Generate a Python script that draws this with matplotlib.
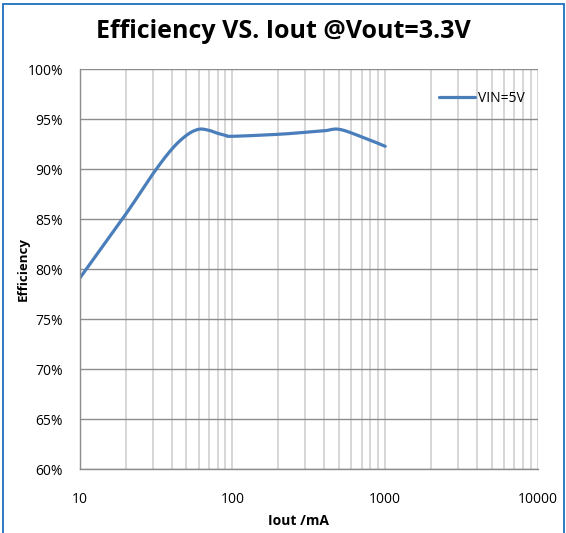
import numpy as np
import matplotlib
matplotlib.use("Agg")
import matplotlib.pyplot as plt
from matplotlib.patches import Rectangle

# Data
iout_ma = [10, 20, 30, 40, 50, 60, 70, 80, 90, 100,
           200, 300, 400, 500, 700, 1000]
efficiency = [79.1, 85.5, 89.5, 92.0, 93.4, 94.0,
              93.9, 93.6, 93.4, 93.3, 93.5, 93.7, 93.85, 94.0, 93.25, 92.3]
series_label = "VIN=5V"
yticks = [60, 65, 70, 75, 80, 85, 90, 95, 100]
xticks = [10, 100, 1000, 10000]
title = "Efficiency VS. Iout @Vout=3.3V"
xlabel = "Iout /mA"
ylabel = "Efficiency"


def catmull_rom(xs, ys, n=20):
    xs = np.asarray(xs, float); ys = np.asarray(ys, float)
    px = np.concatenate([[2*xs[0]-xs[1]], xs, [2*xs[-1]-xs[-2]]])
    py = np.concatenate([[2*ys[0]-ys[1]], ys, [2*ys[-1]-ys[-2]]])
    ox, oy = [], []
    for i in range(1, len(px)-2):
        t = np.linspace(0, 1, n, endpoint=False)
        for P, out in ((px, ox), (py, oy)):
            p0, p1, p2, p3 = P[i-1], P[i], P[i+1], P[i+2]
            out.extend(0.5*((2*p1) + (-p0+p2)*t + (2*p0-5*p1+4*p2-p3)*t**2 + (-p0+3*p1-3*p2+p3)*t**3))
    ox.append(xs[-1]); oy.append(ys[-1])
    return np.array(ox), np.array(oy)

plt.rcParams['font.family'] = ['Open Sans', 'DejaVu Sans']

fig = plt.figure(figsize=(5.66, 5.33), dpi=100)
W, H = 566, 533
ax = fig.add_axes([79.7/W, 1-469.3/H, (538-79.7)/W, (469.3-69.3)/H])

lx, ly = catmull_rom(np.log10(iout_ma), efficiency)
ax.plot(10**lx, ly, color='#4A7EBB', lw=2.3, label=series_label, solid_capstyle='round')

ax.set_xscale('log')
ax.set_xlim(10, 10000)
ax.set_ylim(60, 100)
ax.set_yticks(yticks)
ax.set_yticklabels([f"{v}%" for v in yticks])
ax.set_xticks(xticks)
ax.set_xticklabels([str(v) for v in xticks])
ax.xaxis.set_minor_locator(matplotlib.ticker.LogLocator(base=10, subs=np.arange(2, 10)))
ax.xaxis.set_minor_formatter(matplotlib.ticker.NullFormatter())
ax.tick_params(axis='both', which='both', length=0, labelsize=10, colors='#000000')
ax.tick_params(axis='x', pad=16)
ax.tick_params(axis='y', pad=12)

ax.grid(True, axis='y', which='major', color='#8c8c8c', lw=1.0)
ax.grid(True, axis='x', which='both', color='#d0d0d0', lw=1.2)
ax.set_axisbelow(True)
for s in ['top', 'right']:
    ax.spines[s].set_visible(False)
for s in ['left', 'bottom']:
    ax.spines[s].set_color('#8c8c8c')
    ax.spines[s].set_linewidth(1.0)

fig.text(299/W, 1-521/H, xlabel, fontsize=10, fontweight='bold', ha='center', va='center')
fig.text(23/W, 1-269/H, ylabel, fontsize=9.5, fontweight='bold', ha='center', va='center',
         rotation=90)

fig.text(283/W, 1-32/H, title, fontsize=18, fontweight='bold', ha='center', va='center')

leg = ax.legend(loc='upper left', bbox_to_anchor=((432-79.7)/(538-79.7), 1-(84-69.3)/400),
                frameon=False, fontsize=10, handlelength=2.6, handletextpad=0.2, borderpad=0)

fig.add_artist(Rectangle((3/W, -0.01), (564-3)/W, (1-4/H)+0.01, transform=fig.transFigure,
                         fill=False, edgecolor='#1f6fbf', lw=1.3))

fig.savefig('out.png', dpi=100)
